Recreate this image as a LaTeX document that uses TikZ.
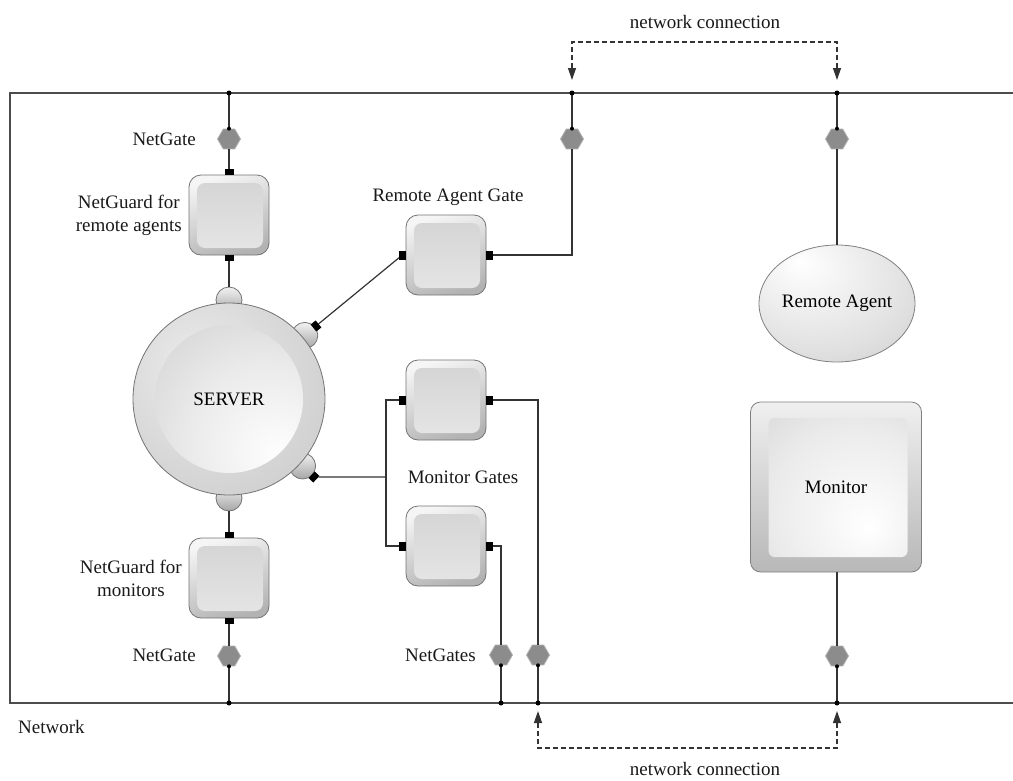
\documentclass[tikz,border=0pt]{standalone}
\usepackage{fontspec}
\setmainfont{Liberation Serif}
\usetikzlibrary{shapes.geometric,arrows.meta}
\pgfdeclareradialshading{srvout}{\pgfpoint{-10bp}{10bp}}{color(0bp)=(black!8); color(45bp)=(black!22); color(65bp)=(black!38)}
\pgfdeclareradialshading{srvin}{\pgfpoint{14bp}{-16bp}}{color(0bp)=(white); color(20bp)=(black!8); color(45bp)=(black!22); color(65bp)=(black!30)}
\pgfdeclareradialshading{ellsh}{\pgfpoint{-12bp}{18bp}}{color(0bp)=(white); color(30bp)=(black!12); color(65bp)=(black!30)}
\pgfdeclareradialshading{monsh}{\pgfpoint{10bp}{-12bp}}{color(0bp)=(white); color(25bp)=(black!8); color(60bp)=(black!26)}
\begin{document}
\begin{tikzpicture}[x=1pt,y=-1pt,font=\fontsize{19}{23}\selectfont,
  conn/.style={line width=1.2pt, draw=black!80},
  netline/.style={line width=2.2pt, draw=black!70},
  dsh/.style={line width=1.3pt, draw=black!80, dash pattern=on 5pt off 3pt},
  hexa/.style={regular polygon, regular polygon sides=6, minimum size=23pt, inner sep=0pt, fill=black!45, draw=black!30, line width=0.8pt},
  hport/.style={fill=black, minimum width=9pt, minimum height=6pt, inner sep=0pt, outer sep=0pt},
  vport/.style={fill=black, minimum width=6.5pt, minimum height=9pt, inner sep=0pt, outer sep=0pt},
  jdot/.style={circle, fill=black, minimum size=5pt, inner sep=0pt},
  gatebox/.style={rectangle, rounded corners=12pt, minimum width=80pt, minimum height=80pt, draw=black!55, line width=0.8pt, top color=black!4, bottom color=black!30, shading angle=20,
    path picture={\shade[top color=black!17, bottom color=black!10, rounded corners=8pt] ([xshift=8pt,yshift=-8pt]path picture bounding box.north west) rectangle ([xshift=-6pt,yshift=7pt]path picture bounding box.south east);}},
  bump/.style={circle, minimum size=26pt, inner sep=0pt, draw=black!55, line width=0.8pt, top color=black!5, bottom color=black!35},
  server/.style={circle, minimum size=192pt, inner sep=0pt, draw=black!55, line width=0.8pt, shading=srvout,
    path picture={\shade[shading=srvin] (path picture bounding box.center) circle (74pt);}},
  ragent/.style={ellipse, minimum width=151pt, minimum height=117pt, inner sep=0pt, draw=black!50, line width=0.8pt, shading=ellsh},
  monitor/.style={rectangle, rounded corners=10pt, minimum width=171pt, minimum height=170pt, draw=black!50, line width=0.8pt, top color=black!6, bottom color=black!28,
    path picture={\shade[shading=monsh, rounded corners=6pt] ([xshift=18pt,yshift=-16pt]path picture bounding box.north west) rectangle ([xshift=-14pt,yshift=15pt]path picture bounding box.south east);}},
  lbl/.style={text=black!90, inner sep=1pt},
  tip/.style={{Triangle[length=12pt,width=8pt]}-{Triangle[length=12pt,width=8pt]}}
]
\useasboundingbox (0,0) rectangle (1013,780);

% network frame
\coordinate (tl) at (10,93); \coordinate (tr) at (1013,93);
\coordinate (bl) at (10,703); \coordinate (br) at (1013,703);
\draw[netline] (tr) -- (tl) -- (bl) -- (br);

% junctions on network
\coordinate (jA) at (229,93); \coordinate (jB) at (572,93); \coordinate (jC) at (837,93);
\coordinate (jD) at (229,703); \coordinate (jE) at (501,703); \coordinate (jF) at (538,703); \coordinate (jG) at (837,703);

% hexagon net gates
\node[hexa] (hA) at (229,139) {};
\node[hexa] (hB) at (572,139) {};
\node[hexa] (hC) at (837,139) {};
\node[hexa] (hD) at (229,656) {};
\node[hexa] (hE) at (501,655) {};
\node[hexa] (hF) at (538,655) {};
\node[hexa] (hG) at (837,656) {};

% boxes
\node[gatebox] (ngT) at (229,215) {};
\node[gatebox] (ngB) at (229,578) {};
\node[gatebox] (rag) at (446,255) {};
\node[gatebox] (mg1) at (446,400) {};
\node[gatebox] (mg2) at (446,546) {};

% ports
\node[hport,anchor=south] (ngTn) at (ngT.north) {};
\node[hport,anchor=north] (ngTs) at (ngT.south) {};
\node[hport,anchor=south] (ngBn) at (ngB.north) {};
\node[hport,anchor=north] (ngBs) at (ngB.south) {};
\node[vport,anchor=east] (ragw) at (rag.west) {};
\node[vport,anchor=west] (rage) at (rag.east) {};
\node[vport,anchor=east] (mg1w) at (mg1.west) {};
\node[vport,anchor=west] (mg1e) at (mg1.east) {};
\node[vport,anchor=east] (mg2w) at (mg2.west) {};
\node[vport,anchor=west] (mg2e) at (mg2.east) {};

% server with bumps
\node[bump] (bT) at (229,300) {};
\node[bump] (bB) at (229,498) {};
\node[bump] (bR1) at (304.8,335.4) {};
\node[bump] (bR2) at (302.6,466) {};
\node[server] (srv) at (229,399) {SERVER};
\node[vport,rotate=39] (pR1) at (316,326) {};
\node[vport,rotate=-43] (pR2) at (314,477) {};

% remote agent and monitor
\node[ragent] (ra) at (837,303.5) {Remote Agent};
\node[monitor] (mon) at (836,487) {Monitor};

% connections
\draw[conn] (jA) -- (hA.north);
\draw[conn] (hA.south) -- (ngTn);
\draw[conn] (ngTs) -- (bT.north);
\draw[conn] (bB.south) -- (ngBn);
\draw[conn] (ngBs) -- (hD.north);
\draw[conn] (hD.south) -- (jD);
\draw[conn] (pR1) -- (ragw);
\draw[conn] (rage) -| (hB.south);
\draw[conn] (hB.north) -- (jB);
\coordinate (jM) at (386,477);
\draw[conn] (pR2) -- (jM);
\draw[conn] (mg1w) -| (jM) |- (mg2w);
\draw[conn] (mg1e) -| (hF.north);
\draw[conn] (mg2e) -| (hE.north);
\draw[conn] (hE.south) -- (jE);
\draw[conn] (hF.south) -- (jF);
\draw[conn] (jC) -- (hC.north);
\draw[conn] (hC.south) -- (ra.north);
\draw[conn] (hG.north |- mon.south) -- (hG.north);
\draw[conn] (hG.south) -- (jG);

% dots
\node[jdot] (dA) at (jA) {}; \node[jdot] (dB) at (jB) {}; \node[jdot] (dC) at (jC) {};
\node[jdot] (dD) at (jD) {}; \node[jdot] (dE) at (jE) {}; \node[jdot] (dF) at (jF) {}; \node[jdot] (dG) at (jG) {};
\node[jdot,minimum size=4pt] (eA) at (hA.north) {};
\node[jdot,minimum size=4pt] (eB) at (hB.north) {};
\node[jdot,minimum size=4pt] (eC) at (hC.north) {};
\node[jdot,minimum size=4pt] (eD) at (hD.south) {};
\node[jdot,minimum size=4pt] (eE) at (hE.south) {};
\node[jdot,minimum size=4pt] (eF) at (hF.south) {};
\node[jdot,minimum size=4pt] (eG) at (hG.south) {};

% network connections (dashed)
\coordinate (aTL) at (572,80); \coordinate (cTL) at (572,42);
\coordinate (cTR) at (837,42); \coordinate (aTR) at (837,80);
\draw[dsh,tip] (aTL) -- (cTL) -- (cTR) -- (aTR);
\coordinate (aBL) at (538,711); \coordinate (cBL) at (538,748);
\coordinate (cBR) at (837,748); \coordinate (aBR) at (837,711);
\draw[dsh,tip] (aBL) -- (cBL) -- (cBR) -- (aBR);

% labels
\node[lbl] (ncT) at (705,22) {network connection};
\node[lbl,inner sep=0pt] (ncB) at (705,769) {network connection};
\node[lbl,anchor=west] (netl) at (17,727) {Network};
\node[lbl,anchor=east] (lgA) at (197,139) {NetGate};
\node[lbl,anchor=east] (lgD) at (197,655) {NetGate};
\node[lbl,anchor=east] (lgE) at (477,655) {NetGates};
\node[lbl,anchor=east,align=center] (lngT) at (183,215) {NetGuard for\\remote agents};
\node[lbl,anchor=east,align=center] (lngB) at (183,578) {NetGuard for\\monitors};
\node[lbl] (lrag) at (448,197) {Remote Agent Gate};
\node[lbl] (lmg) at (463,477) {Monitor Gates};
\end{tikzpicture}
\end{document}
